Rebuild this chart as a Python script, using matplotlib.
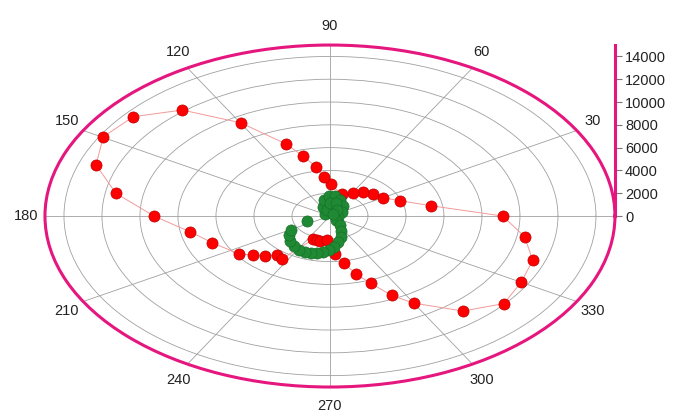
import numpy as np
import matplotlib.pyplot as plt

plt.rcParams['font.family'] = ['Liberation Sans', 'DejaVu Sans']

# red series: angle (deg) and radius, in drawing order around the loop
red_theta = [0, 9.7, 20, 29.8, 39.9, 50.6, 59.6, 72, 89.2, 95, 99.7, 105, 110.1,
             119.9, 129.9, 139.9, 149.8, 160, 170, 180, 190.6, 200.7, 214.8,
             220.3, 225.5, 230.6, 236, 246.7, 251.6, 256.5, 265.3, 274.5, 280,
             285, 290, 295, 300, 310, 320, 330, 340, 350, 360]
red_r = [9090, 5380, 3920, 3230, 2970, 2760, 2370, 2000, 2780, 3460, 4390, 5450, 6730,
         9440, 12120, 13530, 13810, 13100, 11440, 9260, 7500, 6620, 5835,
         5290, 4880, 4420, 4550, 2225, 2220, 2255, 2113, 3340, 4160,
         5260, 6270, 7690, 8820, 10880, 11950, 11620, 11360, 10400, 9090]

# green series
green_theta = [146.3, 115.0, 102.7, 91.7, 81.5, 69.4, 52.0, 29.0, 348.2, 312.0,
               106.7, 90.0, 74.5, 55.0, 48.0,
               303.7, 293.7, 287.4, 280.5, 274.4, 269.0, 263.3, 258.1, 252.9,
               247.4, 241.3, 234.2, 226.2, 217.7, 210.9, 199.9]
green_r = [316, 871, 1439, 1755, 1774, 1499, 1112, 723, 430, 472,
           549, 1140, 1183, 642, 236,
           949, 1438, 1931, 2319, 2727, 2983, 3179, 3317, 3396,
           3421, 3400, 3243, 3040, 2727, 2392, 1287]

theta_ticks = list(range(0, 360, 30))
# the 0 direction shares its label with the radial scale's 0
theta_labels = [''] + [str(t) for t in theta_ticks[1:]]
r_ticks = list(range(2000, 15000, 2000))
r_max = 15000

pink = '#E5177F'

fig = plt.figure(figsize=(6.94, 4.17), dpi=100)
ax = fig.add_axes([0.0648, 0.0719, 0.8213, 0.8201], projection='polar')
ax.set_aspect('auto')

ax.plot(np.radians(red_theta), red_r, color='#F29A9A', lw=0.7, zorder=3)
ax.plot(np.radians(red_theta[:-1]), red_r[:-1], 'o', ms=8, mfc='#FF0000',
        mec='#C00000', mew=0.5, zorder=4)
ax.plot(np.radians(green_theta), green_r, 'o', ms=8, mfc='#1F8A33',
        mec='#16702A', mew=0.5, zorder=5)

ax.set_ylim(0, r_max)
ax.set_yticks(r_ticks)
ax.set_yticklabels([])
ax.set_thetagrids(theta_ticks, theta_labels, fontsize=10.5, color='#222222')
ax.grid(True, color='#A0A0A0', lw=0.6)
ax.spines['polar'].set_color(pink)
ax.spines['polar'].set_linewidth(2.2)
ax.tick_params(axis='x', pad=3)

# radial scale drawn as a separate vertical axis at the right edge
rax = fig.add_axes([615 / 694, 201 / 417, 0.0005, 171 / 417])
rax.set_ylim(0, r_max)
rax.set_yticks([0] + r_ticks)
rax.yaxis.tick_right()
rax.set_xticks([])
for side in ['left', 'top', 'bottom']:
    rax.spines[side].set_visible(False)
rax.spines['right'].set_color(pink)
rax.spines['right'].set_linewidth(2.2)
rax.tick_params(axis='y', direction='out', length=5, width=0.8, color='#777777',
                labelsize=10.5, labelcolor='#222222', pad=2)
rax.patch.set_visible(False)

fig.savefig('out.png', dpi=100)
